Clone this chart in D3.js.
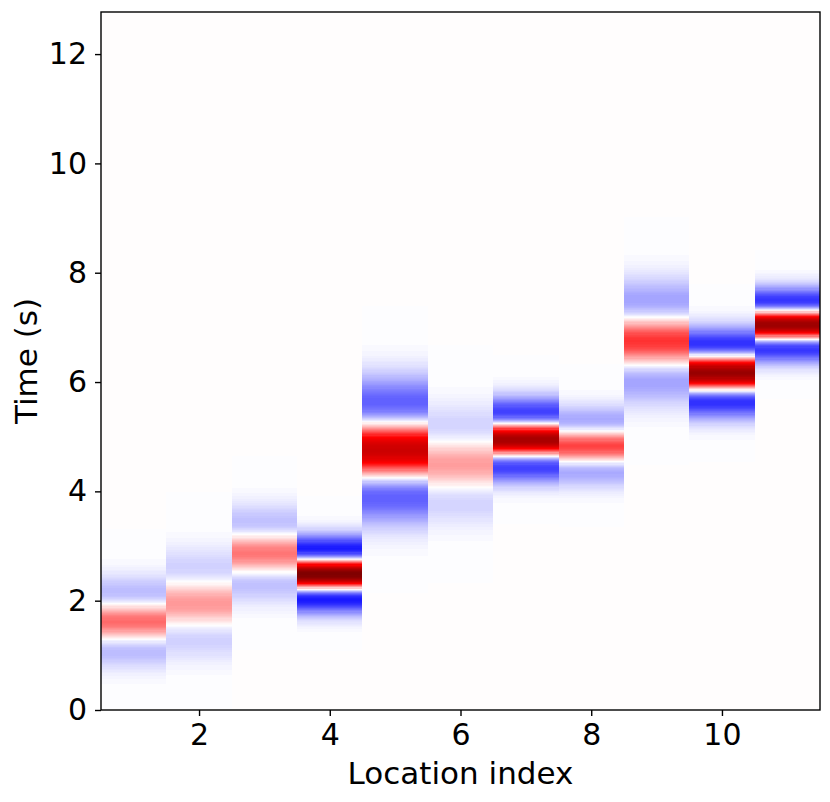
<!DOCTYPE html>
<html>
<head>
<meta charset="utf-8">
<script src="https://cdn.jsdelivr.net/npm/d3@7"></script>
<style>
  body { margin: 0; background: #fff; }
  text { font-family: "DejaVu Sans", sans-serif; fill: #000; }
</style>
</head>
<body>
<div id="chart"></div>
<script>
// one Ricker trace per location: centre time (s), peak frequency (Hz), amplitude
const locations = [1, 2, 3, 4, 5, 6, 7, 8, 9, 10, 11];
const centers = [1.62, 1.95, 2.87, 2.49, 4.76, 4.50, 4.95, 4.83, 6.75, 6.17, 7.05];
const freqs   = [0.69, 0.57, 0.65, 0.82, 0.44, 0.53, 0.75, 0.78, 0.51, 0.71, 0.85];
const amps    = [0.29, 0.20, 0.27, 1.00, 0.70, 0.19, 0.84, 0.37, 0.40, 0.90, 0.88];

const xTicks = [2, 4, 6, 8, 10];
const yTicks = [0, 2, 4, 6, 8, 10, 12];

const windowCycles = 1.15; // half length of each trace window, in periods
const dt = 0.02;

const W = 830, H = 802;
const margin = { top: 12, right: 10, bottom: 92, left: 101 };
const width = W - margin.left - margin.right;
const height = H - margin.top - margin.bottom;

const svg = d3.select("#chart").append("svg")
    .attr("width", W)
    .attr("height", H);

const g = svg.append("g")
    .attr("transform", `translate(${margin.left},${margin.top})`);

const x = d3.scaleLinear().domain([0.5, 11.5]).range([0, width]);
const y = d3.scaleLinear().domain([0, 12.77]).range([height, 0]);

// matplotlib "seismic" colormap, quantised to 256 levels
const seismic = d3.scaleLinear()
    .domain([0, 0.25, 0.5, 0.75, 1])
    .range(["#00004d", "#0000ff", "#ffffff", "#ff0000", "#800000"])
    .interpolate(d3.interpolateRgb);
const color = a => {
    const v = (a + 1) / 2;
    const idx = Math.max(0, Math.min(255, Math.floor(v * 256)));
    return seismic(idx / 255);
};

function ricker(t, f) {
    const u = Math.PI * Math.PI * f * f * t * t;
    return (1 - 2 * u) * Math.exp(-u);
}

// background (zero amplitude)
g.append("rect")
    .attr("x", 0).attr("y", 0)
    .attr("width", width).attr("height", height)
    .attr("fill", color(0));

const cells = [];
locations.forEach((loc, i) => {
    const half = windowCycles / freqs[i];
    const t0 = Math.max(0, centers[i] - half);
    const t1 = Math.min(12.77, centers[i] + half);
    for (let t = t0; t < t1; t += dt) {
        const tm = t + dt / 2;
        cells.push({ loc: loc, t: t, v: amps[i] * ricker(tm - centers[i], freqs[i]) });
    }
});

g.append("g")
    .attr("shape-rendering", "crispEdges")
    .selectAll("rect")
    .data(cells)
    .join("rect")
    .attr("x", d => x(d.loc - 0.5))
    .attr("width", x(1.5) - x(0.5))
    .attr("y", d => y(d.t + dt) - 0.3)
    .attr("height", y(0) - y(dt) + 0.6)
    .attr("fill", d => color(d.v));

// axes
const xAxis = g.append("g")
    .attr("transform", `translate(0,${height})`)
    .call(d3.axisBottom(x).tickValues(xTicks).tickSize(6).tickPadding(8));
const yAxis = g.append("g")
    .call(d3.axisLeft(y).tickValues(yTicks).tickSize(6).tickPadding(8));

[xAxis, yAxis].forEach(ax => {
    ax.select(".domain").remove();
    ax.selectAll(".tick line").attr("stroke", "#000").attr("stroke-width", 1.4);
    ax.selectAll(".tick text")
        .attr("font-family", "DejaVu Sans, sans-serif")
        .attr("font-size", 30);
});

// frame
g.append("rect")
    .attr("x", 0).attr("y", 0)
    .attr("width", width).attr("height", height)
    .attr("fill", "none")
    .attr("stroke", "#000")
    .attr("stroke-width", 1.4);

svg.append("text")
    .attr("x", margin.left + width / 2)
    .attr("y", 784)
    .attr("text-anchor", "middle")
    .attr("font-size", 31)
    .text("Location index");

svg.append("text")
    .attr("transform", `translate(37,${margin.top + height / 2}) rotate(-90)`)
    .attr("text-anchor", "middle")
    .attr("font-size", 31)
    .text("Time (s)");
</script>
</body>
</html>
